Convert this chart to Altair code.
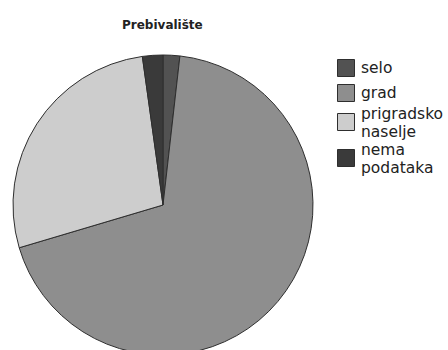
import altair as alt
import pandas as pd

# Share of respondents by place of residence (%)
categories = ["selo", "grad", "prigradsko naselje", "nema podataka"]
shares = [1.8, 68.6, 27.4, 2.2]
colors = ["#525252", "#8e8e8e", "#cdcdcd", "#3a3a3a"]

df = pd.DataFrame({
    "prebivaliste": categories,
    "udio": shares,
    "redoslijed": list(range(len(categories))),
})

# two-word labels are broken onto two lines and centred on their swatch
label_lines = "split(datum.label, ' ')"
label_baseline = alt.ExprRef("indexof(datum.label, ' ') >= 0 ? 'bottom' : 'middle'")

chart = (
    alt.Chart(df)
    .mark_arc(outerRadius=150, stroke="#2e2e2e", strokeWidth=1)
    .encode(
        x=alt.value(163),
        y=alt.value(175),
        theta=alt.Theta("udio:Q", stack=True),
        order=alt.Order("redoslijed:O"),
        color=alt.Color(
            "prebivaliste:N",
            scale=alt.Scale(domain=categories, range=colors),
            sort=categories,
            legend=alt.Legend(
                title=None,
                orient="none",
                legendX=337,
                legendY=29,
                padding=0,
                symbolType="square",
                symbolSize=289,
                symbolStrokeColor="#2e2e2e",
                symbolStrokeWidth=1,
                labelFont="DejaVu Sans",
                labelFontSize=15.5,
                labelColor="#222222",
                labelOffset=6,
                labelLimit=200,
                labelBaseline=label_baseline,
                rowPadding=3,
                labelExpr=label_lines,
            ),
        ),
    )
    .properties(
        width=448,
        height=320,
        padding={"left": 0, "top": 30, "right": 0, "bottom": 0},
        autosize=alt.AutoSizeParams(type="none"),
        title=alt.TitleParams(
            "Prebivalište",
            anchor="start",
            dx=122,
            dy=5,
            offset=3,
            font="DejaVu Sans",
            fontSize=12,
            fontWeight="bold",
            color="#222222",
        ),
    )
    .configure_view(stroke=None)
)

chart.save("out.html", embed_options={"renderer": "svg", "actions": False})
